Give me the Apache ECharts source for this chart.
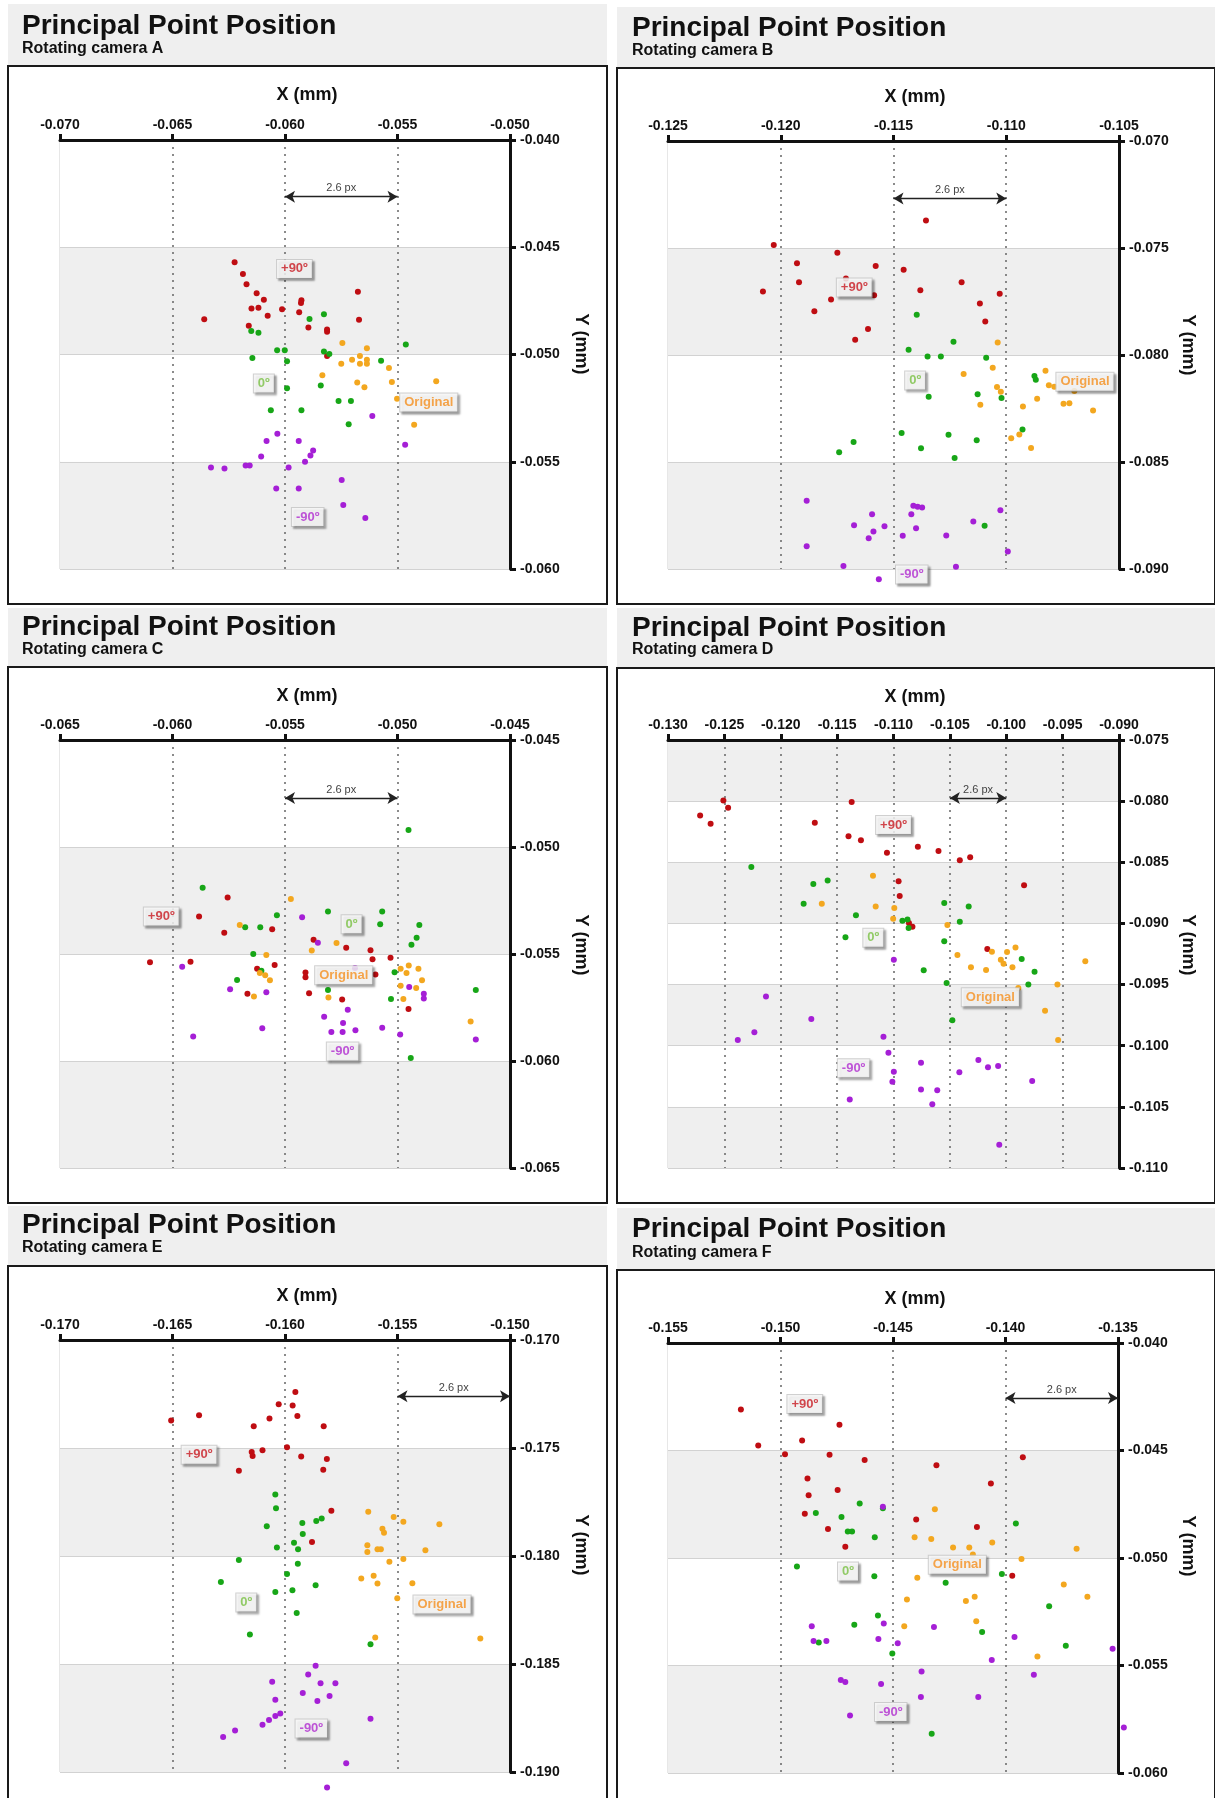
<!DOCTYPE html>
<html>
<head>
<meta charset="utf-8">
<script src="https://cdn.jsdelivr.net/npm/echarts@6/dist/echarts.min.js"></script>
<style>
html,body{margin:0;padding:0;background:#fff;}
#chart{width:1215px;height:1798px;}
</style>
</head>
<body>
<div id="chart"></div>
<script>
// ---------------- DATA (mm) ----------------
const cameras = ['A', 'B', 'C', 'D', 'E', 'F'];
const tagNames = ['+90º', '0º', 'Original', '-90º'];

const camA_xRange = [-0.070, -0.050];
const camA_yRange = [-0.060, -0.040];
const camA_arrow = [-0.060, -0.055, -0.04264];
const camA_p90 = [[-0.06224,-0.04570],[-0.06187,-0.04625],[-0.06171,-0.04673],[-0.06126,-0.04715],[-0.06094,-0.04745],[-0.06149,-0.04785],[-0.06118,-0.04782],[-0.06077,-0.04819],[-0.06161,-0.04866],[-0.06013,-0.04789],[-0.05927,-0.04747],[-0.05929,-0.04760],[-0.05937,-0.04803],[-0.05896,-0.04874],[-0.05813,-0.04883],[-0.05813,-0.04894],[-0.05676,-0.04708],[-0.05671,-0.04838],[-0.06359,-0.04836],[-0.05813,-0.05007]];
const camA_0 = [[-0.06150,-0.04890],[-0.06118,-0.04899],[-0.05891,-0.04834],[-0.05827,-0.04812],[-0.06035,-0.04980],[-0.06001,-0.04980],[-0.06145,-0.05016],[-0.05991,-0.05031],[-0.05827,-0.04986],[-0.05803,-0.04998],[-0.05991,-0.05157],[-0.05841,-0.05144],[-0.05762,-0.05217],[-0.05707,-0.05217],[-0.06063,-0.05260],[-0.05927,-0.05260],[-0.05717,-0.05325],[-0.05573,-0.05029],[-0.05463,-0.04953]];
const camA_orig = [[-0.05745,-0.04946],[-0.05636,-0.04971],[-0.05667,-0.05007],[-0.05702,-0.05025],[-0.05750,-0.05043],[-0.05667,-0.05043],[-0.05636,-0.05025],[-0.05636,-0.05043],[-0.05538,-0.05063],[-0.05834,-0.05097],[-0.05679,-0.05130],[-0.05647,-0.05153],[-0.05525,-0.05128],[-0.05328,-0.05125],[-0.05502,-0.05206],[-0.05426,-0.05327]];
const camA_m90 = [[-0.05612,-0.05287],[-0.05466,-0.05421],[-0.06034,-0.05370],[-0.06082,-0.05403],[-0.05939,-0.05403],[-0.05875,-0.05448],[-0.05887,-0.05471],[-0.05911,-0.05500],[-0.06106,-0.05475],[-0.06329,-0.05527],[-0.06269,-0.05531],[-0.06175,-0.05518],[-0.06157,-0.05518],[-0.05984,-0.05527],[-0.05748,-0.05585],[-0.06039,-0.05625],[-0.05939,-0.05625],[-0.05741,-0.05702],[-0.05643,-0.05762]];
const camA_tags = [[-0.05958,-0.04601],[-0.06094,-0.05135],[-0.05361,-0.05224],[-0.05899,-0.05758]];

const camB_xRange = [-0.125, -0.105];
const camB_yRange = [-0.090, -0.070];
const camB_arrow = [-0.115, -0.110, -0.07269];
const camB_p90 = [[-0.11356,-0.07372],[-0.12031,-0.07486],[-0.11749,-0.07522],[-0.11928,-0.07571],[-0.11579,-0.07584],[-0.11455,-0.07602],[-0.11919,-0.07660],[-0.11711,-0.07643],[-0.12079,-0.07703],[-0.11777,-0.07741],[-0.11586,-0.07721],[-0.11851,-0.07795],[-0.11381,-0.07698],[-0.11198,-0.07660],[-0.11029,-0.07714],[-0.11117,-0.07759],[-0.11093,-0.07843],[-0.11613,-0.07879],[-0.11670,-0.07929]];
const camB_0 = [[-0.11397,-0.07812],[-0.11234,-0.07938],[-0.11433,-0.07976],[-0.11349,-0.08007],[-0.11290,-0.08007],[-0.11089,-0.08013],[-0.10875,-0.08098],[-0.10869,-0.08116],[-0.11344,-0.08195],[-0.11127,-0.08183],[-0.11021,-0.08201],[-0.11464,-0.08364],[-0.11256,-0.08373],[-0.11131,-0.08398],[-0.10928,-0.08348],[-0.11677,-0.08407],[-0.11741,-0.08454],[-0.11378,-0.08436],[-0.11229,-0.08481],[-0.11096,-0.08798]];
const camB_orig = [[-0.11038,-0.07942],[-0.11189,-0.08089],[-0.11060,-0.08060],[-0.11041,-0.08150],[-0.11024,-0.08172],[-0.11115,-0.08233],[-0.10826,-0.08074],[-0.10811,-0.08141],[-0.10787,-0.08148],[-0.10698,-0.08168],[-0.10863,-0.08205],[-0.10926,-0.08241],[-0.10746,-0.08228],[-0.10720,-0.08226],[-0.10615,-0.08259],[-0.10978,-0.08389],[-0.10942,-0.08371],[-0.10890,-0.08434]];
const camB_m90 = [[-0.11885,-0.08681],[-0.11412,-0.08704],[-0.11393,-0.08709],[-0.11373,-0.08713],[-0.11595,-0.08744],[-0.11421,-0.08744],[-0.11026,-0.08726],[-0.11675,-0.08795],[-0.11540,-0.08800],[-0.11400,-0.08809],[-0.11146,-0.08778],[-0.11589,-0.08825],[-0.11610,-0.08856],[-0.11459,-0.08845],[-0.11266,-0.08843],[-0.11885,-0.08894],[-0.10993,-0.08918],[-0.11722,-0.08986],[-0.11223,-0.08990],[-0.11565,-0.09048]];
const camB_tags = [[-0.11674,-0.07685],[-0.11404,-0.08119],[-0.10651,-0.08125],[-0.11419,-0.09026]];

const camC_xRange = [-0.065, -0.045];
const camC_yRange = [-0.065, -0.045];
const camC_arrow = [-0.055, -0.050, -0.04771];
const camC_p90 = [[-0.05755,-0.05236],[-0.05882,-0.05325],[-0.05770,-0.05401],[-0.05557,-0.05384],[-0.06100,-0.05538],[-0.05920,-0.05536],[-0.05624,-0.05569],[-0.05546,-0.05551],[-0.05667,-0.05686],[-0.05373,-0.05433],[-0.05228,-0.05471],[-0.05120,-0.05482],[-0.05111,-0.05524],[-0.05031,-0.05518],[-0.05409,-0.05587],[-0.05409,-0.05609],[-0.05098,-0.05596],[-0.05393,-0.05683],[-0.05246,-0.05713],[-0.04951,-0.05757]];
const camC_0 = [[-0.04951,-0.04921],[-0.05866,-0.05191],[-0.05536,-0.05319],[-0.05677,-0.05375],[-0.05610,-0.05375],[-0.05309,-0.05301],[-0.05068,-0.05301],[-0.05077,-0.05361],[-0.04903,-0.05364],[-0.04915,-0.05424],[-0.04938,-0.05457],[-0.05641,-0.05500],[-0.05713,-0.05621],[-0.05605,-0.05578],[-0.05013,-0.05585],[-0.05309,-0.05668],[-0.05029,-0.05710],[-0.04652,-0.05668],[-0.04941,-0.05986]];
const camC_orig = [[-0.05474,-0.05243],[-0.05701,-0.05364],[-0.05271,-0.05449],[-0.05381,-0.05484],[-0.05583,-0.05505],[-0.05612,-0.05589],[-0.05588,-0.05599],[-0.05567,-0.05623],[-0.05638,-0.05699],[-0.05307,-0.05703],[-0.04986,-0.05569],[-0.04950,-0.05554],[-0.04907,-0.05569],[-0.04960,-0.05589],[-0.04891,-0.05623],[-0.04986,-0.05648],[-0.04917,-0.05659],[-0.04974,-0.05710],[-0.04675,-0.05816]];
const camC_m90 = [[-0.05424,-0.05328],[-0.05354,-0.05448],[-0.05957,-0.05560],[-0.05744,-0.05665],[-0.05583,-0.05679],[-0.05189,-0.05565],[-0.04948,-0.05654],[-0.04883,-0.05686],[-0.04883,-0.05708],[-0.05221,-0.05760],[-0.05326,-0.05793],[-0.05242,-0.05822],[-0.05294,-0.05865],[-0.05244,-0.05865],[-0.05187,-0.05856],[-0.05068,-0.05845],[-0.04988,-0.05876],[-0.05601,-0.05847],[-0.05908,-0.05885],[-0.04652,-0.05900]];
const camC_tags = [[-0.06050,-0.05325],[-0.05204,-0.05361],[-0.05239,-0.05599],[-0.05244,-0.05956]];

const camD_xRange = [-0.130, -0.090];
const camD_yRange = [-0.110, -0.075];
const camD_arrow = [-0.105, -0.100, -0.07975];
const camD_p90 = [[-0.12509,-0.07994],[-0.12467,-0.08054],[-0.12715,-0.08117],[-0.12622,-0.08184],[-0.11698,-0.08177],[-0.11371,-0.08006],[-0.11399,-0.08288],[-0.11289,-0.08320],[-0.11058,-0.08421],[-0.10784,-0.08373],[-0.10601,-0.08408],[-0.10412,-0.08484],[-0.10320,-0.08459],[-0.10955,-0.08655],[-0.10945,-0.08775],[-0.10863,-0.08997],[-0.10832,-0.09028],[-0.09842,-0.08687],[-0.10168,-0.09209]];
const camD_0 = [[-0.12261,-0.08538],[-0.11711,-0.08677],[-0.11584,-0.08649],[-0.11797,-0.08839],[-0.11333,-0.08934],[-0.11426,-0.09114],[-0.10921,-0.08978],[-0.10876,-0.08968],[-0.10866,-0.09038],[-0.10550,-0.08832],[-0.10333,-0.08861],[-0.10412,-0.08987],[-0.10550,-0.09146],[-0.10732,-0.09383],[-0.10529,-0.09487],[-0.09863,-0.09291],[-0.09749,-0.09396],[-0.09804,-0.09500],[-0.10478,-0.09791]];
const camD_orig = [[-0.11182,-0.08611],[-0.11636,-0.08839],[-0.11158,-0.08861],[-0.10993,-0.08873],[-0.11003,-0.08962],[-0.10522,-0.09013],[-0.10433,-0.09259],[-0.10313,-0.09358],[-0.10179,-0.09380],[-0.10127,-0.09231],[-0.09993,-0.09234],[-0.09918,-0.09196],[-0.10048,-0.09297],[-0.10024,-0.09329],[-0.09945,-0.09358],[-0.09893,-0.09528],[-0.09546,-0.09500],[-0.09656,-0.09715],[-0.09540,-0.09953],[-0.09299,-0.09310]];
const camD_m90 = [[-0.12131,-0.09598],[-0.11729,-0.09782],[-0.12234,-0.09889],[-0.12381,-0.09953],[-0.11089,-0.09927],[-0.10997,-0.09297],[-0.11045,-0.10057],[-0.10997,-0.10212],[-0.11010,-0.10294],[-0.11388,-0.10440],[-0.10756,-0.10139],[-0.10756,-0.10358],[-0.10612,-0.10364],[-0.10656,-0.10478],[-0.10416,-0.10218],[-0.10247,-0.10117],[-0.10162,-0.10177],[-0.10072,-0.10165],[-0.09770,-0.10288],[-0.10062,-0.10810]];
const camD_tags = [[-0.11000,-0.08196],[-0.11179,-0.09117],[-0.10141,-0.09604],[-0.11354,-0.10184]];

const camE_xRange = [-0.170, -0.150];
const camE_yRange = [-0.190, -0.170];
const camE_arrow = [-0.155, -0.150, -0.17260];
const camE_p90 = [[-0.15954,-0.17241],[-0.16028,-0.17298],[-0.15966,-0.17303],[-0.15945,-0.17352],[-0.16069,-0.17363],[-0.16382,-0.17348],[-0.16506,-0.17373],[-0.16139,-0.17399],[-0.15828,-0.17399],[-0.15991,-0.17497],[-0.16100,-0.17510],[-0.16148,-0.17519],[-0.16144,-0.17537],[-0.15928,-0.17539],[-0.15814,-0.17551],[-0.15830,-0.17601],[-0.16205,-0.17605],[-0.15794,-0.17790],[-0.15880,-0.17935]];
const camE_0 = [[-0.16043,-0.17715],[-0.16040,-0.17779],[-0.16081,-0.17862],[-0.15923,-0.17847],[-0.15861,-0.17838],[-0.15837,-0.17826],[-0.15921,-0.17898],[-0.15960,-0.17939],[-0.15942,-0.17969],[-0.16036,-0.17961],[-0.16205,-0.18018],[-0.15943,-0.18036],[-0.15991,-0.18083],[-0.16285,-0.18120],[-0.16043,-0.18167],[-0.15967,-0.18158],[-0.15864,-0.18135],[-0.15948,-0.18264],[-0.16156,-0.18364],[-0.15620,-0.18409]];
const camE_orig = [[-0.15630,-0.17795],[-0.15517,-0.17820],[-0.15474,-0.17842],[-0.15314,-0.17853],[-0.15567,-0.17874],[-0.15560,-0.17892],[-0.15634,-0.17950],[-0.15634,-0.17982],[-0.15589,-0.17969],[-0.15574,-0.17969],[-0.15376,-0.17973],[-0.15474,-0.18014],[-0.15536,-0.18027],[-0.15661,-0.18104],[-0.15606,-0.18092],[-0.15589,-0.18127],[-0.15434,-0.18126],[-0.15501,-0.18196],[-0.15599,-0.18377],[-0.15132,-0.18382]];
const camE_m90 = [[-0.15864,-0.18508],[-0.15897,-0.18549],[-0.16057,-0.18582],[-0.15842,-0.18589],[-0.15776,-0.18589],[-0.15921,-0.18634],[-0.15802,-0.18648],[-0.16043,-0.18666],[-0.15856,-0.18671],[-0.16021,-0.18729],[-0.16043,-0.18741],[-0.16071,-0.18759],[-0.16100,-0.18781],[-0.16222,-0.18808],[-0.16275,-0.18838],[-0.15620,-0.18754],[-0.15728,-0.18959],[-0.15813,-0.19072]];
const camE_tags = [[-0.16382,-0.17531],[-0.16172,-0.18215],[-0.15302,-0.18224],[-0.15883,-0.18799]];

const camF_xRange = [-0.155, -0.135];
const camF_yRange = [-0.060, -0.040];
const camF_arrow = [-0.140, -0.135, -0.04256];
const camF_p90 = [[-0.15176,-0.04309],[-0.14738,-0.04380],[-0.15099,-0.04477],[-0.14904,-0.04454],[-0.14980,-0.04517],[-0.14782,-0.04520],[-0.14626,-0.04544],[-0.14307,-0.04569],[-0.13923,-0.04531],[-0.14880,-0.04630],[-0.14746,-0.04684],[-0.14875,-0.04708],[-0.14065,-0.04654],[-0.14892,-0.04794],[-0.14397,-0.04821],[-0.14789,-0.04865],[-0.14127,-0.04856],[-0.14712,-0.04948],[-0.13970,-0.05083]];
const camF_0 = [[-0.14648,-0.04746],[-0.14843,-0.04791],[-0.14729,-0.04809],[-0.14701,-0.04877],[-0.14682,-0.04877],[-0.14581,-0.04903],[-0.14545,-0.04769],[-0.13954,-0.04839],[-0.14927,-0.05040],[-0.14583,-0.05085],[-0.14266,-0.05115],[-0.14016,-0.05074],[-0.13806,-0.05224],[-0.14567,-0.05267],[-0.14672,-0.05310],[-0.14104,-0.05344],[-0.14830,-0.05393],[-0.14503,-0.05444],[-0.13732,-0.05408],[-0.14328,-0.05817]];
const camF_orig = [[-0.14314,-0.04773],[-0.14404,-0.04904],[-0.14330,-0.04912],[-0.14233,-0.04951],[-0.14161,-0.04951],[-0.14059,-0.04928],[-0.14145,-0.04984],[-0.13684,-0.04957],[-0.13929,-0.05005],[-0.14392,-0.05092],[-0.13741,-0.05123],[-0.14438,-0.05193],[-0.14176,-0.05200],[-0.14137,-0.05180],[-0.13636,-0.05180],[-0.14450,-0.05317],[-0.14130,-0.05294],[-0.13858,-0.05458]];
const camF_m90 = [[-0.14545,-0.04762],[-0.14861,-0.05317],[-0.14541,-0.05305],[-0.14318,-0.05321],[-0.14853,-0.05386],[-0.14796,-0.05386],[-0.14565,-0.05377],[-0.14479,-0.05397],[-0.13960,-0.05368],[-0.14061,-0.05474],[-0.13524,-0.05422],[-0.13874,-0.05543],[-0.14373,-0.05528],[-0.14732,-0.05568],[-0.14712,-0.05577],[-0.14553,-0.05586],[-0.14376,-0.05646],[-0.14121,-0.05647],[-0.14691,-0.05732],[-0.13474,-0.05788]];
const camF_tags = [[-0.14892,-0.04284],[-0.14700,-0.05063],[-0.14214,-0.05031],[-0.14510,-0.05716]];

// ---------------- ASSEMBLY ----------------
const camData = {
  A: {x: camA_xRange, y: camA_yRange, arrow: camA_arrow, groups: [camA_p90, camA_0, camA_orig, camA_m90], tags: camA_tags},
  B: {x: camB_xRange, y: camB_yRange, arrow: camB_arrow, groups: [camB_p90, camB_0, camB_orig, camB_m90], tags: camB_tags},
  C: {x: camC_xRange, y: camC_yRange, arrow: camC_arrow, groups: [camC_p90, camC_0, camC_orig, camC_m90], tags: camC_tags},
  D: {x: camD_xRange, y: camD_yRange, arrow: camD_arrow, groups: [camD_p90, camD_0, camD_orig, camD_m90], tags: camD_tags},
  E: {x: camE_xRange, y: camE_yRange, arrow: camE_arrow, groups: [camE_p90, camE_0, camE_orig, camE_m90], tags: camE_tags},
  F: {x: camF_xRange, y: camF_yRange, arrow: camF_arrow, groups: [camF_p90, camF_0, camF_orig, camF_m90], tags: camF_tags}
};

// layout (pixels) per panel
const layout = [
  {grid:[60,140,450,429], header:[8,4,599,62], box:[8,66,599,538], title:[22,26.7], sub:[22,48.7], xName:[307,95], yName:[581,344]},
  {grid:[668,141,451,428], header:[617,7,598,61], box:[617,68,598,536], title:[632,28.6], sub:[632,51], xName:[915,97], yName:[1188,345]},
  {grid:[60,740,450,428], header:[8,608,599,59], box:[8,667,599,536], title:[22,627.7], sub:[22,650], xName:[307,696], yName:[581,945]},
  {grid:[668,740,451,428], header:[617,608,598,60], box:[617,668,598,535], title:[632,628], sub:[632,650], xName:[915,697], yName:[1188,945]},
  {grid:[60,1340,450,432], header:[8,1206,599,60], box:[8,1266,599,560], title:[22,1225.5], sub:[22,1248], xName:[307,1296], yName:[581,1545]},
  {grid:[668,1343,450,430], header:[617,1208,598,62], box:[617,1270,598,560], title:[632,1229.4], sub:[632,1252.6], xName:[915,1299], yName:[1188,1546]}
];

const FONT = '"Liberation Sans", Arial, Helvetica, sans-serif';
const pointColors = ['#bf0d12', '#17a617', '#f3a71f', '#a51fd6'];
const tagColors = ['#c81a22', '#79c043', '#f5901f', '#b02ccf'];

const grids = [], xAxes = [], yAxes = [], series = [], graphics = [];

cameras.forEach((cam, i) => {
  const d = camData[cam];
  const L = layout[i];
  grids.push({left: L.grid[0], top: L.grid[1], width: L.grid[2], height: L.grid[3],
    show: true, borderColor: '#cfcfcf', borderWidth: 1, backgroundColor: 'transparent'});
  xAxes.push({
    type: 'value', gridIndex: i, position: 'top', min: d.x[0], max: d.x[1], interval: 0.005,
    axisLine: {show: true, onZero: false, lineStyle: {color: '#111', width: 3}},
    axisTick: {show: true, inside: false, length: 6, lineStyle: {color: '#111', width: 3}},
    axisLabel: {show: true, margin: 8, fontFamily: FONT, fontWeight: 'bold', fontSize: 14, color: '#111',
      formatter: v => v.toFixed(3)},
    splitLine: {show: true, showMinLine: false, showMaxLine: false,
      lineStyle: {color: '#666', width: 1.5, type: [2, 5]}},
    splitArea: {show: false}
  });
  yAxes.push({
    type: 'value', gridIndex: i, position: 'right', min: d.y[0], max: d.y[1], interval: 0.005,
    axisLine: {show: true, onZero: false, lineStyle: {color: '#111', width: 3}},
    axisTick: {show: true, inside: false, length: 6, lineStyle: {color: '#111', width: 3}},
    axisLabel: {show: true, margin: 10, fontFamily: FONT, fontWeight: 'bold', fontSize: 14, color: '#111',
      formatter: v => v.toFixed(3)},
    splitLine: {show: true, lineStyle: {color: '#d2d2d2', width: 1}},
    splitArea: {show: true, areaStyle: {color: ['#efefef', '#ffffff']}}
  });
  d.groups.forEach((g, k) => {
    series.push({
      type: 'scatter', xAxisIndex: i, yAxisIndex: i, data: g, clip: false,
      symbol: 'circle', symbolSize: 6, z: 3, silent: true, animation: false,
      itemStyle: {color: pointColors[k], opacity: 1}
    });
  });
  series.push({
    type: 'scatter', xAxisIndex: i, yAxisIndex: i, clip: false, z: 6, silent: true, animation: false,
    symbol: 'circle', symbolSize: 1, itemStyle: {color: 'rgba(0,0,0,0)'},
    data: d.tags.map((t, k) => ({value: t, name: tagNames[k], label: {color: tagColors[k]}})),
    label: {show: true, position: 'inside', formatter: '{b}', fontFamily: FONT, fontWeight: 'bold', fontSize: 13,
      backgroundColor: '#ffffff', borderColor: '#c4c4c4', borderWidth: 1, padding: [3, 4, 2, 4],
      shadowColor: 'rgba(0,0,0,0.35)', shadowBlur: 2, shadowOffsetX: 2, shadowOffsetY: 2},
    markLine: {
      silent: true, animation: false, symbol: ['arrow', 'arrow'], symbolSize: [9, 10],
      lineStyle: {color: '#222', width: 1.3, type: 'solid'},
      label: {show: true, position: 'middle', formatter: '2.6 px', fontFamily: FONT, fontSize: 11, color: '#444', distance: 3},
      data: [[{coord: [d.arrow[0], d.arrow[2]]}, {coord: [d.arrow[1], d.arrow[2]]}]]
    }
  });

  // panel decorations
  graphics.push({type: 'rect', z: -10, silent: true,
    shape: {x: L.header[0], y: L.header[1], width: L.header[2], height: L.header[3]},
    style: {fill: '#efefef'}});
  graphics.push({type: 'rect', z: -9, silent: true,
    shape: {x: L.box[0], y: L.box[1], width: L.box[2], height: L.box[3]},
    style: {fill: '#ffffff', stroke: '#1a1a1a', lineWidth: 2}});
  graphics.push({type: 'text', z: 10, silent: true, x: L.title[0], y: L.title[1],
    style: {text: 'Principal Point Position', font: 'bold 28px ' + FONT, fill: '#111',
      align: 'left', verticalAlign: 'middle', textAlign: 'left', textVerticalAlign: 'middle'}});
  graphics.push({type: 'text', z: 10, silent: true, x: L.sub[0], y: L.sub[1],
    style: {text: 'Rotating camera ' + cam, font: 'bold 16px ' + FONT, fill: '#111',
      align: 'left', verticalAlign: 'middle', textAlign: 'left', textVerticalAlign: 'middle'}});
  graphics.push({type: 'text', z: 10, silent: true, x: L.xName[0], y: L.xName[1],
    style: {text: 'X (mm)', font: 'bold 18px ' + FONT, fill: '#111',
      align: 'center', verticalAlign: 'middle', textAlign: 'center', textVerticalAlign: 'middle'}});
  graphics.push({type: 'text', z: 10, silent: true, x: L.yName[0], y: L.yName[1], rotation: -Math.PI / 2,
    style: {text: 'Y (mm)', font: 'bold 18px ' + FONT, fill: '#111',
      align: 'center', verticalAlign: 'middle', textAlign: 'center', textVerticalAlign: 'middle'}});
});

const chart = echarts.init(document.getElementById('chart'), null, {renderer: 'canvas'});
chart.setOption({
  backgroundColor: '#ffffff',
  animation: false,
  grid: grids,
  xAxis: xAxes,
  yAxis: yAxes,
  series: series,
  graphic: {elements: graphics}
});
</script>
</body>
</html>
